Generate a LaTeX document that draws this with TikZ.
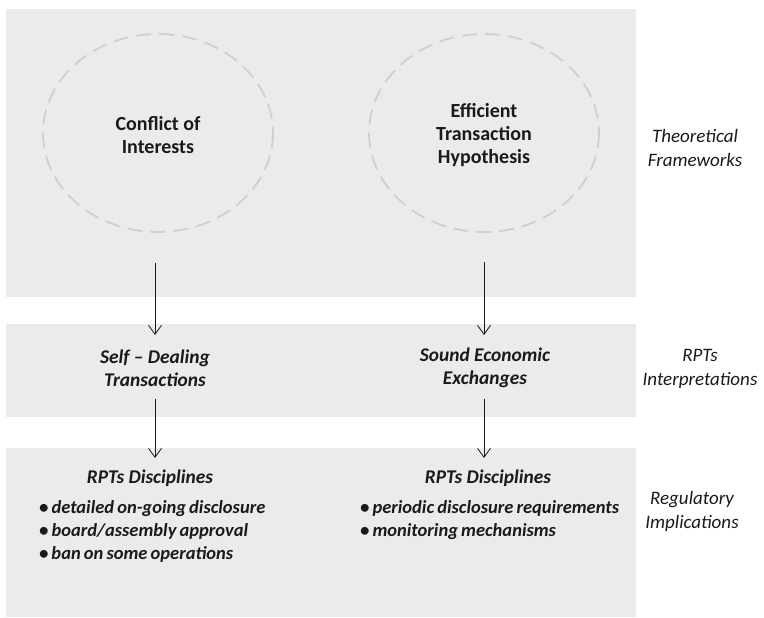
\documentclass[tikz,border=0pt]{standalone}
\usepackage{fontspec}
\setmainfont{Carlito}
\usetikzlibrary{arrows.meta}
\definecolor{panel}{HTML}{EBEBEB}
\definecolor{ring}{HTML}{CFCFCF}
\definecolor{ink}{HTML}{1A1A1A}
\newcommand{\bulletfont}{\fontsize{18.5}{23}\selectfont\bfseries\itshape\spaceskip=0.17em plus 0.05em\relax}
\tikzset{
  panelbox/.style={fill=panel, draw=none},
  ringshape/.style={draw=ring, line width=1.8pt, dash pattern=on 15pt off 8pt},
  theory/.style={align=center, text=ink, font=\fontsize{20}{23}\selectfont\bfseries},
  interp/.style={align=center, text=ink, font=\fontsize{19.4}{23}\selectfont\bfseries\itshape},
  discip/.style={align=center, text=ink, font=\fontsize{19.4}{23}\selectfont\bfseries\itshape},
  bullets/.style={align=left, text=ink, font=\bulletfont, anchor=north west, inner sep=0pt},
  sidelabel/.style={align=center, text=ink, font=\fontsize{19}{24}\selectfont\itshape},
  flow/.style={draw=ink, line width=0.8pt, -{Straight Barb[length=9pt,width=13pt,line width=0.8pt]}}
}
\begin{document}
\begin{tikzpicture}[x=1pt,y=-1pt]
\useasboundingbox (0,0) rectangle (764,618);
% panels
\fill[panelbox] (6,9) rectangle (636,297);
\fill[panelbox] (6,324) rectangle (636,417);
\fill[panelbox] (6,448) rectangle (636,617);
% ellipses
\draw[ringshape] (158,133) ellipse [x radius=115, y radius=99];
\draw[ringshape] (484,133) ellipse [x radius=115, y radius=99];
% theory texts
\node[theory] (coi) at (158,135) {Conflict of\\Interests};
\node[theory] (eth) at (484,135) {Efficient\\Transaction\\Hypothesis};
\node[sidelabel] (tf) at (695,148) {Theoretical\\Frameworks};
% interpretations
\node[interp] (sdt) at (155,368) {Self -- Dealing\\Transactions};
\node[interp] (see) at (485,368) {Sound Economic\\Exchanges};
\node[sidelabel] (ri) at (700,369) {RPTs\\Interpretations};
% disciplines
\node[discip] (d1) at (150,478) {RPTs Disciplines};
\node[discip] (d2) at (488,478) {RPTs Disciplines};
\node[bullets] (b1) at (39,500) {• detailed on-going disclosure\\• board/assembly approval\\•\,ban on some operations};
\node[bullets] (b2) at (360,500) {• periodic disclosure requirements\\• monitoring mechanisms};
\node[sidelabel] (reg) at (692,511) {Regulatory\\Implications};
% arrows
\coordinate (l1s) at (155,263);
\coordinate (l1e) at (155,335);
\coordinate (l2s) at (155,399);
\coordinate (l2e) at (155,458);
\coordinate (r1s) at (484,262);
\coordinate (r1e) at (484,335);
\coordinate (r2s) at (484,399);
\coordinate (r2e) at (484,458);
\draw[flow] (l1s) -- (l1e);
\draw[flow] (l2s) -- (l2e);
\draw[flow] (r1s) -- (r1e);
\draw[flow] (r2s) -- (r2e);
\end{tikzpicture}
\end{document}
